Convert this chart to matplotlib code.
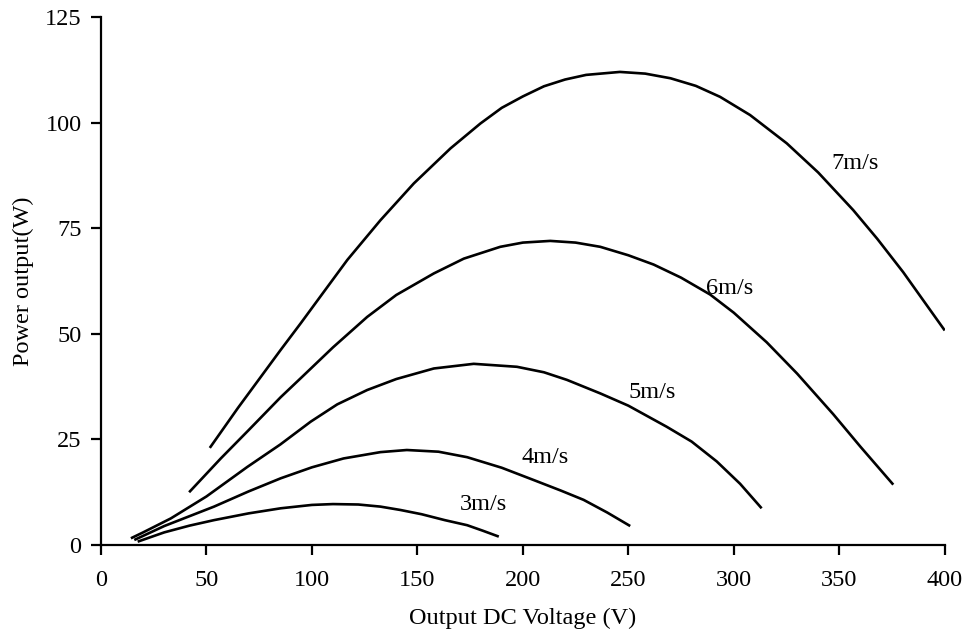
import matplotlib
matplotlib.use("Agg")
import matplotlib.pyplot as plt

plt.rcParams['font.family'] = ['Liberation Serif', 'DejaVu Serif']

# values
v7 = [51.6, 65, 85.2, 94.7, 105, 116.8, 132.5, 148.3, 165.7, 179.9, 190, 200, 210, 220, 230, 246,
      258, 270, 282, 293.5, 307.7, 325.1, 340, 356.6, 368, 380.3, 390, 400]
p7 = [23.0, 32.5, 46.2, 52.5, 59.5, 67.5, 76.9, 85.6, 93.9, 99.8, 103.5, 106.2, 108.6, 110.2, 111.3, 112.0,
      111.6, 110.5, 108.7, 106.1, 101.8, 95.1, 88.2, 79.3, 72.5, 64.6, 57.8, 50.8]

v6 = [41.8, 56.8, 70, 85.2, 94.7, 110, 126.2, 140, 157.8, 172, 189.3, 200, 213, 225, 236.7, 250,
      262, 275, 288.8, 300, 315.6, 330, 347.1, 360, 375.6]
p6 = [12.5, 20.5, 27.2, 35.0, 39.5, 46.8, 54.0, 59.2, 64.3, 67.8, 70.6, 71.6, 72.0, 71.6, 70.6, 68.6,
      66.4, 63.3, 59.3, 55.0, 48.0, 40.6, 31.0, 23.3, 14.3]

v5 = [14.2, 20, 33.1, 50, 69.4, 85, 99.4, 112, 126.2, 140, 157.8, 176.7, 197.2, 210, 220.9, 236.7,
      250, 268.2, 280, 291.9, 303, 313.2]
p5 = [1.6, 3.0, 6.3, 11.5, 18.5, 23.8, 29.2, 33.3, 36.7, 39.3, 41.8, 42.9, 42.2, 40.9, 39.1, 35.9,
      33.0, 28.0, 24.5, 19.8, 14.5, 8.7]

v4 = [15.8, 30, 53.6, 70, 85.2, 100, 115, 132.5, 145, 160, 173.6, 190, 205.1, 218, 228.8, 240, 250.9]
p4 = [1.2, 4.5, 9.1, 12.7, 15.8, 18.4, 20.5, 22.0, 22.5, 22.1, 20.8, 18.3, 15.4, 12.9, 10.7, 7.7, 4.5]

v3 = [17.4, 30, 42, 53.6, 70, 85.2, 100, 110, 122, 132.5, 142, 152, 163, 173.6, 181, 188.6]
p3 = [0.8, 3.0, 4.6, 5.9, 7.5, 8.7, 9.5, 9.7, 9.6, 9.1, 8.3, 7.3, 5.9, 4.7, 3.4, 2.0]

labels = ['7m/s', '6m/s', '5m/s', '4m/s', '3m/s']
label_x = [357.4, 298.2, 261.3, 210.7, 181.3]
label_y = [90.4, 60.8, 36.0, 20.8, 9.5]

fig = plt.figure(figsize=(9.66, 6.42), dpi=100)
ax = fig.add_axes([0.1045, 0.151, 0.8735, 0.8225])

for v, p in [(v7, p7), (v6, p6), (v5, p5), (v4, p4), (v3, p3)]:
    ax.plot(v, p, color='black', lw=1.9, solid_capstyle='butt', solid_joinstyle='round')

for t, x, y in zip(labels, label_x, label_y):
    ax.text(x, y, t, fontsize=17.5, ha='center', va='center')

ax.set_xlim(0, 400)
ax.set_ylim(0, 125)
ax.set_xticks(range(0, 401, 50))
ax.set_yticks(range(0, 126, 25))
ax.spines['top'].set_visible(False)
ax.spines['right'].set_visible(False)
for s in ['left', 'bottom']:
    ax.spines[s].set_linewidth(1.6)
ax.tick_params(direction='out', length=7, width=1.6, labelsize=17.5)
ax.tick_params(axis='x', pad=11)
ax.tick_params(axis='y', pad=7)
ax.set_xlabel('Output DC Voltage (V)', fontsize=17.5, labelpad=12)
ax.set_ylabel('Power output(W)', fontsize=17.5, labelpad=8)

fig.savefig('out.png', dpi=100)
